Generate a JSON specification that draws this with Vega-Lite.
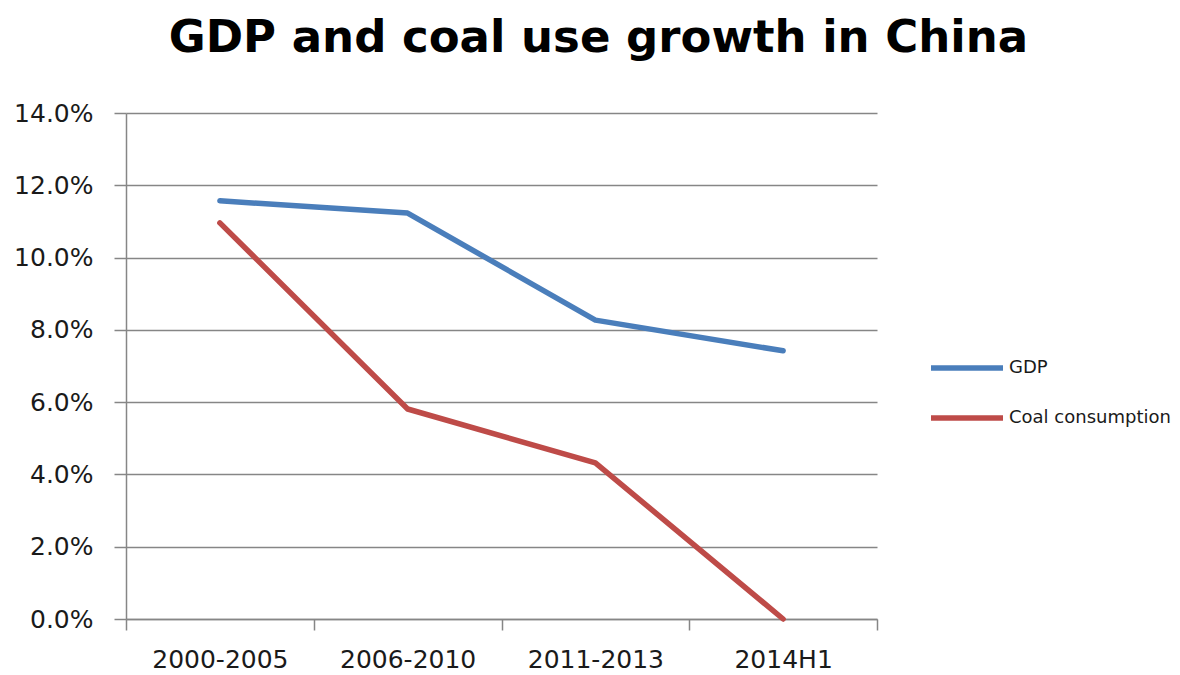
{
  "$schema": "https://vega.github.io/schema/vega-lite/v6.json",
  "width": 751,
  "height": 506,
  "autosize": "none",
  "padding": {"left": 126, "top": 113, "right": 303, "bottom": 56},
  "background": "white",
  "title": {
    "text": "GDP and coal use growth in China",
    "font": "DejaVu Sans",
    "fontWeight": "bold",
    "fontSize": 45,
    "color": "#000000",
    "anchor": "middle",
    "dx": 97,
    "offset": 40
  },
  "data": {
    "values": [
      {"period": "2000-2005", "series": "GDP", "growth": 0.1157},
      {"period": "2006-2010", "series": "GDP", "growth": 0.1123},
      {"period": "2011-2013", "series": "GDP", "growth": 0.0827},
      {"period": "2014H1", "series": "GDP", "growth": 0.0742},
      {"period": "2000-2005", "series": "Coal consumption", "growth": 0.1096},
      {"period": "2006-2010", "series": "Coal consumption", "growth": 0.0581},
      {"period": "2011-2013", "series": "Coal consumption", "growth": 0.0432},
      {"period": "2014H1", "series": "Coal consumption", "growth": 0.0}
    ]
  },
  "mark": {"type": "line", "strokeWidth": 5.5, "strokeCap": "round", "strokeJoin": "round", "clip": false},
  "encoding": {
    "x": {
      "field": "period",
      "type": "ordinal",
      "sort": ["2000-2005", "2006-2010", "2011-2013", "2014H1"],
      "scale": {"type": "band", "paddingInner": 0, "paddingOuter": 0},
      "axis": {
        "title": null,
        "labelAngle": 0,
        "tickBand": "extent",
        "tickSize": 11,
        "tickColor": "#868686",
        "tickWidth": 1.5,
        "domainColor": "#868686",
        "domainWidth": 1.5,
        "labelFont": "DejaVu Sans",
        "labelFontSize": 25,
        "labelColor": "#1a1a1a",
        "labelPadding": 17,
        "grid": false
      }
    },
    "y": {
      "field": "growth",
      "type": "quantitative",
      "scale": {"domain": [0, 0.14], "nice": false, "zero": true},
      "axis": {
        "title": null,
        "values": [0, 0.02, 0.04, 0.06, 0.08, 0.1, 0.12, 0.14],
        "format": ".1%",
        "tickSize": 12,
        "tickColor": "#868686",
        "tickWidth": 1.5,
        "domainColor": "#868686",
        "domainWidth": 1.5,
        "grid": true,
        "gridColor": "#868686",
        "gridWidth": 1.5,
        "labelFont": "DejaVu Sans",
        "labelFontSize": 25,
        "labelColor": "#1a1a1a",
        "labelPadding": 21
      }
    },
    "color": {
      "field": "series",
      "type": "nominal",
      "scale": {"domain": ["GDP", "Coal consumption"], "range": ["#4A7EBB", "#BE4B48"]},
      "legend": {
        "title": null,
        "orient": "none",
        "legendX": 802,
        "legendY": 216,
        "padding": 0,
        "symbolType": "stroke",
        "symbolSize": 5184,
        "symbolStrokeWidth": 5.5,
        "rowPadding": -24,
        "labelFont": "DejaVu Sans",
        "labelFontSize": 18,
        "labelColor": "#1a1a1a",
        "labelOffset": 3,
        "labelLimit": 0
      }
    }
  },
  "config": {"view": {"stroke": null}}
}
